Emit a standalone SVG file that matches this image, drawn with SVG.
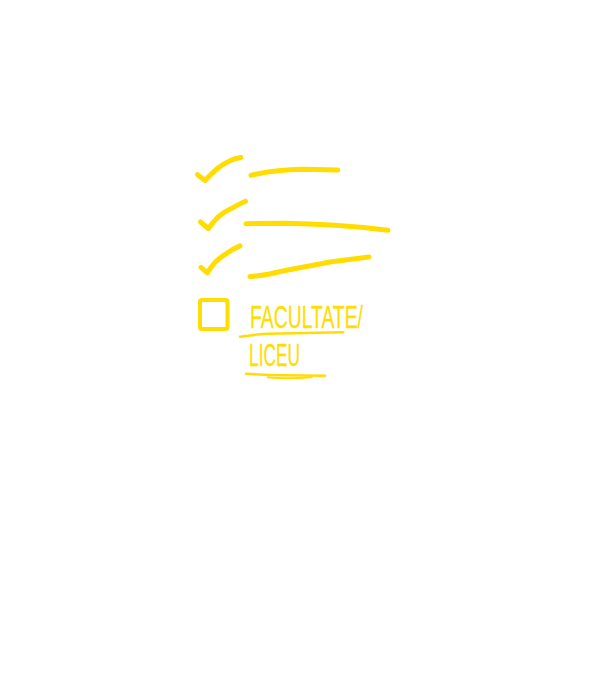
<svg xmlns="http://www.w3.org/2000/svg" width="605" height="680" viewBox="0 0 605 680">
<style>
.s{fill:none;stroke:#ffdd00;stroke-linecap:round;stroke-linejoin:round}
.m{stroke-width:5}
.u{stroke-width:2.500}
.t{fill:#ffdd00;stroke:#ffdd00;stroke-width:.3px;font-family:"Liberation Sans",Arial,sans-serif;font-size:32px}
</style>
<rect width="605" height="680" fill="#ffffff"/>
<g id="item-1">
<path class="s m" d="M197.500 174.600L205 180.500Q211 174 218 168Q224 163.500 230 160.700Q235 158.500 240.800 157.500"/>
<path class="s m" d="M251 175.300Q264 172 278.300 170.700Q290 169.500 301.700 169.300L338 170"/>
</g>
<g id="item-2">
<path class="s m" d="M200.500 222L208.300 228.700Q213 222 218.300 216.700Q224 212 231.700 208.300Q239 204 245.500 201.200"/>
<path class="s m" d="M246 223.700L285 223.300Q310 224 335 225.300Q362 227 388 230.300"/>
</g>
<g id="item-3">
<path class="s m" d="M201 267.300L207.300 272.800Q211 267 215 262.300Q220 257.500 226.700 253.300Q233 249 240 245.900"/>
<path class="s m" d="M250 276.500Q259 276 268.300 274.300Q280 271.500 291.700 269.300L331.700 261.700L369 257"/>
</g>
<g id="item-4">
<rect class="s" x="200" y="300" width="27.500" height="29" rx="2" stroke-width="4"/>
<text class="t" x="250" y="327.700" textLength="113" lengthAdjust="spacingAndGlyphs">FACULTATE/</text>
<path class="s u" d="M240 336.700Q254 334.500 268 333.700Q305 333 343.300 332.300"/>
<text class="t" x="249" y="366" textLength="51" lengthAdjust="spacingAndGlyphs">LICEU</text>
<path class="s u" d="M246 373.700Q265 375 285 375.300L325 375.700"/>
<path class="s" stroke-width="2" d="M267.700 377.300Q285 379 311.700 377.300"/>
</g>
</svg>
